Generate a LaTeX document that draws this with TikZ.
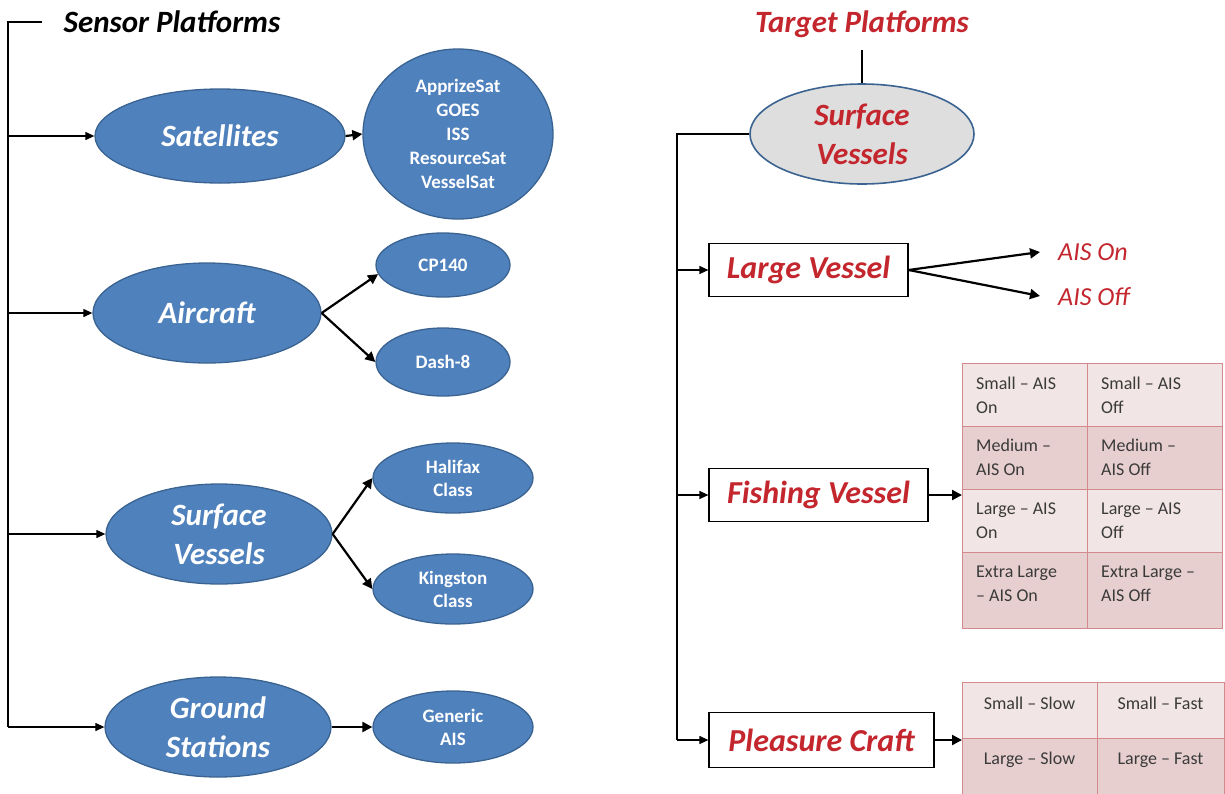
\documentclass[tikz,border=0pt]{standalone}
\usepackage{fontspec}
\setmainfont{Carlito}
\usetikzlibrary{shapes.geometric,arrows.meta}
\definecolor{ofblue}{HTML}{4F81BD}
\definecolor{ofblueline}{HTML}{3A6391}
\definecolor{ofred}{HTML}{C4262E}
\definecolor{cellA}{HTML}{F2E5E5}
\definecolor{cellB}{HTML}{E7CFCF}
\definecolor{cellline}{HTML}{D48A8C}
\definecolor{celltxt}{HTML}{3A3A3A}
\definecolor{greyfill}{HTML}{DEDEDE}
\newcommand\fbigbi{\fontsize{31}{39}\selectfont\bfseries\itshape}
\newcommand\fsmallb{\fontsize{19}{24}\selectfont\bfseries}
\newcommand\fvbox{\fontsize{32}{36}\selectfont\bfseries\itshape}
\newcommand\fais{\fontsize{26}{30}\selectfont\itshape}
\newcommand\fcell{\fontsize{18}{24}\selectfont}
\tikzset{
  x=1pt, y=-1pt,
  mainell/.style={ellipse, draw=ofblueline, line width=1.3pt, fill=ofblue, text=white, inner sep=0pt, align=center, font=\fbigbi},
  subell/.style={ellipse, draw=ofblueline, line width=1.3pt, fill=ofblue, text=white, inner sep=0pt, align=center, font=\fsmallb},
  thinarr/.style={line width=1.2pt, -{Triangle[length=9pt,width=8pt]}},
  thickarr/.style={line width=2.2pt, -{Triangle[length=10pt,width=10pt]}},
  thinline/.style={line width=1.2pt},
  vbox/.style={rectangle, draw=black, line width=1.2pt, fill=white, text=ofred, font=\fvbox, inner sep=0pt},
  cellbox/.style={rectangle, draw=cellline, line width=1pt, inner sep=0pt, anchor=north west},
  celltext/.style={font=\fcell, text=celltxt, align=left, inner sep=0pt, anchor=west},
  celltextc/.style={font=\fcell, text=celltxt, align=center, inner sep=0pt},
}
\begin{document}
\begin{tikzpicture}
\useasboundingbox (0,0) rectangle (1225,793);

% ---------------- Left: Sensor Platforms ----------------
\node[font=\fbigbi, text=black, inner sep=0pt] (sensor) at (172,22) {Sensor Platforms};
\coordinate (ltop) at (8,22);
\coordinate (ltitle) at (42,22);
\coordinate (lbot) at (8,727);

\node[mainell, minimum width=250, minimum height=94] (sat) at (220,136) {Satellites};
\node[subell, minimum width=190, minimum height=170] (satlist) at (458,134) {ApprizeSat\\GOES\\ISS\\ResourceSat\\VesselSat};

\node[mainell, minimum width=228, minimum height=100] (air) at (207,313) {Aircraft};
\node[subell, minimum width=134, minimum height=64] (cp) at (443,265) {CP140};
\node[subell, minimum width=134, minimum height=68] (dash) at (443,362) {Dash-8};

\node[mainell, minimum width=226, minimum height=100] (sv) at (219,534) {Surface\\Vessels};
\node[subell, minimum width=160, minimum height=70, font=\fontsize{19}{23}\selectfont\bfseries] (hal) at (453,478) {Halifax\\Class};
\node[subell, minimum width=160, minimum height=70, font=\fontsize{19}{23}\selectfont\bfseries] (king) at (453,589) {Kingston\\Class};

\node[mainell, minimum width=226, minimum height=100] (gs) at (218,727) {Ground\\Stations};
\node[subell, minimum width=160, minimum height=72, font=\fontsize{19}{23}\selectfont\bfseries] (gen) at (453,727) {Generic\\AIS};

\draw[thinline] (ltitle) -- (ltop) -- (lbot);
\draw[thinarr] (8,136) -- (sat.west);
\draw[thinarr] (8,313) -- (air.west);
\draw[thinarr] (8,534) -- (sv.west);
\draw[thinarr] (lbot) -- (gs.west);

\draw[thickarr] (sat.east) -- (satlist.west);
\draw[thickarr] (air.east) -- (cp.188);
\draw[thickarr] (air.east) -- (dash.west);
\draw[thickarr] (sv.east) -- (hal.west);
\draw[thickarr] (sv.east) -- (king.west);
\draw[thickarr] (gs.east) -- (gen.west);

% ---------------- Right: Target Platforms ----------------
\node[font=\fbigbi, text=ofred, inner sep=0pt] (target) at (862,24) {Target Platforms};
\coordinate (tstem) at (862,50);
\node[ellipse, draw=ofblueline, line width=1.6pt, fill=greyfill, text=ofred, inner sep=0pt, align=center, font=\fbigbi, minimum width=224, minimum height=100] (tsv) at (862,134) {Surface\\Vessels};
\draw[line width=1.6pt] (tstem) -- (tsv.north);

\coordinate (rcorner) at (677,134);
\coordinate (rbot) at (677,740);

\node[vbox, minimum width=199, minimum height=53] (large) at (808.5,270) {Large Vessel};
\node[vbox, minimum width=219, minimum height=53] (fish) at (818.5,495) {Fishing Vessel};
\node[vbox, minimum width=225, minimum height=55] (pleas) at (821.5,740) {Pleasure Craft};

\draw[thinline] (tsv.west) -- (rcorner) -- (rbot);
\draw[thinarr] (677,270) -- (large.west);
\draw[thinarr] (677,495) -- (fish.west);
\draw[thinarr] (rbot) -- (pleas.west);

\node[font=\fais, text=ofred, inner sep=0pt, anchor=west] (aison) at (1058,252) {AIS On};
\node[font=\fais, text=ofred, inner sep=0pt, anchor=west] (aisoff) at (1058,297) {AIS Off};
\draw[thickarr] (large.east) -- (1040,252);
\draw[thickarr] (large.east) -- (1040,296);

% Fishing table
\node[cellbox, fill=cellA, minimum width=125, minimum height=63] (f11) at (962,363) {};
\node[cellbox, fill=cellA, minimum width=135, minimum height=63] (f12) at (1087,363) {};
\node[cellbox, fill=cellB, minimum width=125, minimum height=63] (f21) at (962,426) {};
\node[cellbox, fill=cellB, minimum width=135, minimum height=63] (f22) at (1087,426) {};
\node[cellbox, fill=cellA, minimum width=125, minimum height=63] (f31) at (962,489) {};
\node[cellbox, fill=cellA, minimum width=135, minimum height=63] (f32) at (1087,489) {};
\node[cellbox, fill=cellB, minimum width=125, minimum height=76] (f41) at (962,552) {};
\node[cellbox, fill=cellB, minimum width=135, minimum height=76] (f42) at (1087,552) {};

\node[celltext] (t11) at (976,395) {Small – AIS\\On};
\node[celltext] (t12) at (1101,395) {Small – AIS\\Off};
\node[celltext] (t21) at (976,457) {Medium –\\AIS On};
\node[celltext] (t22) at (1101,457) {Medium –\\AIS Off};
\node[celltext] (t31) at (976,521) {Large – AIS\\On};
\node[celltext] (t32) at (1101,521) {Large – AIS\\Off};
\node[celltext] (t41) at (976,584) {Extra Large\\– AIS On};
\node[celltext] (t42) at (1101,584) {Extra Large –\\AIS Off};

\draw[thickarr] (fish.east) -- (fish.east -| f31.west);

% Pleasure table
\node[cellbox, fill=cellA, minimum width=135, minimum height=56] (p11) at (962,682) {};
\node[cellbox, fill=cellA, minimum width=127, minimum height=56] (p12) at (1097,682) {};
\node[cellbox, fill=cellB, minimum width=135, minimum height=70] (p21) at (962,738) {};
\node[cellbox, fill=cellB, minimum width=127, minimum height=70] (p22) at (1097,738) {};

\node[celltextc] (q11) at (1029.5,703) {Small – Slow};
\node[celltextc] (q12) at (1160.5,703) {Small – Fast};
\node[celltextc] (q21) at (1029.5,760) {Large – Slow};
\node[celltextc] (q22) at (1160.5,760) {Large – Fast};

\draw[thickarr] (pleas.east) -- (pleas.east -| p21.west);
\end{tikzpicture}
\end{document}
